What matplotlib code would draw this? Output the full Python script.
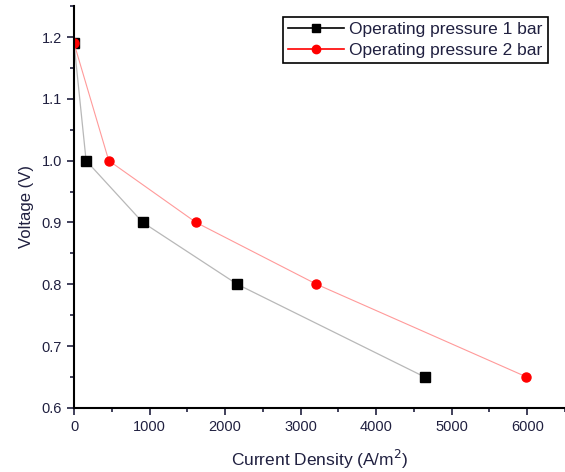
import matplotlib.pyplot as plt
from matplotlib.ticker import MultipleLocator

plt.rcParams['font.family'] = ['Liberation Sans', 'DejaVu Sans']

# current density (A/m2) and voltage (V)
j_1bar = [0, 160, 910, 2160, 4640]
v_1bar = [1.19, 1.0, 0.9, 0.8, 0.65]
j_2bar = [0, 460, 1615, 3210, 5990]
v_2bar = [1.19, 1.0, 0.9, 0.8, 0.65]

fig = plt.figure(figsize=(5.65, 4.72), dpi=100)
ax = fig.add_axes([0.131, 0.136, 0.869, 0.851])

ax.plot(j_1bar, v_1bar, color='#b8b8b8', lw=0.9, marker='s', ms=7,
        mfc='black', mec='black')
ax.plot(j_2bar, v_2bar, color='#ff9a9a', lw=0.8, marker='o', ms=6.5,
        mfc='red', mec='red')

ax.set_xlim(0, 6500)
ax.set_ylim(0.6, 1.25)
ax.xaxis.set_major_locator(MultipleLocator(1000))
ax.xaxis.set_minor_locator(MultipleLocator(500))
ax.yaxis.set_major_locator(MultipleLocator(0.1))
ax.yaxis.set_minor_locator(MultipleLocator(0.05))
ax.tick_params(which='both', direction='out', width=1.2, labelsize=10.5, colors='#202040')
ax.tick_params(which='major', length=5)
ax.tick_params(which='minor', length=3)
for s in ['top', 'right']:
    ax.spines[s].set_visible(False)
for s in ['left', 'bottom']:
    ax.spines[s].set_linewidth(1.5)

ax.set_xlabel('Current Density (A/m$^2$)', fontsize=12.5, labelpad=10, color='#202040')
ax.set_ylabel('Voltage (V)', fontsize=12, labelpad=6, color='#202040')

# legend handles drawn in marker colour
h1, = ax.plot([], [], color='black', lw=1.2, marker='s', ms=6)
h2, = ax.plot([], [], color='red', lw=1.2, marker='o', ms=6)
leg = ax.legend([h1, h2], ['Operating pressure 1 bar', 'Operating pressure 2 bar'],
                loc='upper right', bbox_to_anchor=(0.965, 0.973), fancybox=False,
                edgecolor='black', framealpha=1, fontsize=12.5, handlelength=3.2,
                borderpad=0.3, labelspacing=0.3, handletextpad=0.3, borderaxespad=0)
leg.get_frame().set_linewidth(1.2)
for t in leg.get_texts():
    t.set_color('#202040')

fig.savefig('out.png', dpi=100)
